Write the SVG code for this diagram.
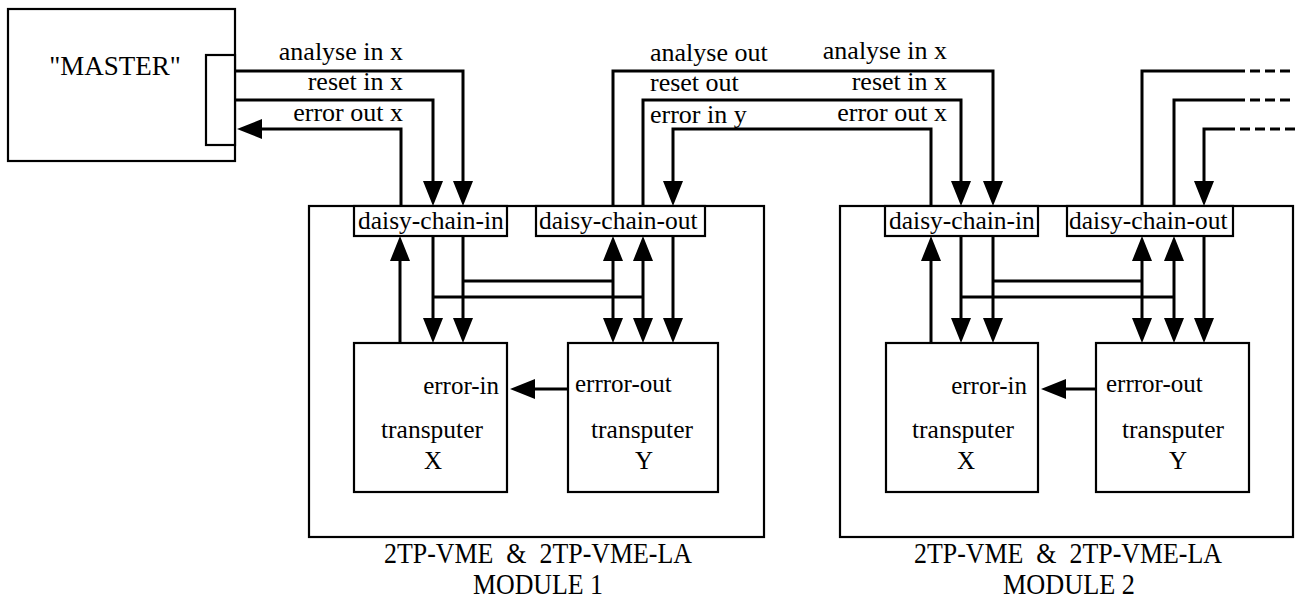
<svg xmlns="http://www.w3.org/2000/svg" width="1295" height="599" viewBox="0 0 1295 599" font-family="'Liberation Serif', 'DejaVu Serif', serif">
<style>
.box{fill:#fff;stroke:#000;stroke-width:2.2}
.ln{fill:none;stroke:#000;stroke-width:3}
.dash{fill:none;stroke:#000;stroke-width:3;stroke-dasharray:10 5}
.ae{marker-end:url(#arr)}
.ab{marker-start:url(#arr);marker-end:url(#arr)}
text{font-family:'Liberation Serif','DejaVu Serif',serif;font-size:25px;fill:#000}
.lab{font-size:26px}
.dc{font-size:25.5px}
.big{font-size:30px}
.r{text-anchor:end}
.m{text-anchor:middle}
</style>
<defs>
<marker id="arr" viewBox="0 0 25 20" refX="0" refY="10" markerWidth="25" markerHeight="20" markerUnits="userSpaceOnUse" orient="auto-start-reverse">
<path d="M0,0 L25,10 L0,20 Z" fill="#000"/>
</marker>
</defs>

<g id="master">
<rect class="box" x="8" y="9" width="227" height="152"/>
<rect class="box" x="206" y="55" width="29" height="90"/>
<text class="m" x="115" y="75" style="font-size:27px">"MASTER"</text>
</g>

<g id="module1">
<rect class="box" x="309" y="206" width="455" height="331"/>
<text class="big m" x="538" y="563" xml:space="preserve" textLength="308" lengthAdjust="spacingAndGlyphs">2TP-VME  &amp;  2TP-VME-LA</text>
<text class="big m" x="538" y="594" textLength="130" lengthAdjust="spacingAndGlyphs">MODULE 1</text>
</g>
<g id="dci1">
<rect class="box" x="354" y="206" width="153" height="30"/>
<text class="dc" x="358" y="229">daisy-chain-in</text>
</g>
<g id="dco1">
<rect class="box" x="536" y="206" width="169" height="30"/>
<text class="dc" x="539" y="229">daisy-chain-out</text>
</g>
<g id="tpx1">
<rect class="box" x="354" y="343" width="153" height="149"/>
<text class="r" x="499" y="394">error-in</text>
<text class="dc" x="381" y="438">transputer</text>
<text class="m" x="433" y="469">X</text>
</g>
<g id="tpy1">
<rect class="box" x="568" y="343" width="150" height="149"/>
<text x="575" y="392">errror-out</text>
<text class="dc" x="591" y="438">transputer</text>
<text class="m" x="644" y="469">Y</text>
</g>

<g id="module2">
<rect class="box" x="840" y="206" width="453" height="331"/>
<text class="big m" x="1068" y="563" xml:space="preserve" textLength="308" lengthAdjust="spacingAndGlyphs">2TP-VME  &amp;  2TP-VME-LA</text>
<text class="big m" x="1069" y="594" textLength="132" lengthAdjust="spacingAndGlyphs">MODULE 2</text>
</g>
<g id="dci2">
<rect class="box" x="885" y="206" width="153" height="30"/>
<text class="dc" x="889" y="229">daisy-chain-in</text>
</g>
<g id="dco2">
<rect class="box" x="1067" y="206" width="166" height="30"/>
<text class="dc" x="1069" y="229">daisy-chain-out</text>
</g>
<g id="tpx2">
<rect class="box" x="886" y="343" width="152" height="149"/>
<text class="r" x="1027" y="394">error-in</text>
<text class="dc" x="912" y="438">transputer</text>
<text class="m" x="966" y="469">X</text>
</g>
<g id="tpy2">
<rect class="box" x="1096" y="343" width="153" height="149"/>
<text x="1106" y="392">errror-out</text>
<text class="dc" x="1122" y="438">transputer</text>
<text class="m" x="1178" y="469">Y</text>
</g>

<g id="connectors">
<path class="ln ae" d="M235,71 H463 V181"/>
<path class="ln ae" d="M235,100 H433 V181"/>
<path class="ln ae" d="M401,206 V129 H262"/>
<path class="ln ae" d="M613,206 V71 H993 V181"/>
<path class="ln ae" d="M643,206 V100 H961 V181"/>
<path class="ln ae" d="M931,206 V129 H673 V181"/>
<path class="ln" d="M1142,206 V71 H1235"/>
<path class="dash" d="M1235,71 H1295"/>
<path class="ln" d="M1174,206 V100 H1235"/>
<path class="dash" d="M1235,100 H1295"/>
<path class="dash" d="M1295,129 H1235"/>
<path class="ln ae" d="M1235,129 H1204 V181"/>
<path class="ln ae" d="M400,343 V261"/>
<path class="ln ae" d="M433,236 V318"/>
<path class="ln ae" d="M463,236 V318"/>
<path class="ln" d="M463,281 H614"/>
<path class="ln" d="M433,297 H643"/>
<path class="ln ab" d="M613,261 V318"/>
<path class="ln ab" d="M643,261 V318"/>
<path class="ln ae" d="M673,236 V318"/>
<path class="ln ae" d="M568,389 H535"/>
<path class="ln ae" d="M931,343 V261"/>
<path class="ln ae" d="M961,236 V318"/>
<path class="ln ae" d="M993,236 V318"/>
<path class="ln" d="M993,281 H1143"/>
<path class="ln" d="M961,297 H1174"/>
<path class="ln ab" d="M1142,261 V318"/>
<path class="ln ab" d="M1174,261 V318"/>
<path class="ln ae" d="M1204,236 V318"/>
<path class="ln ae" d="M1096,389 H1066"/>
</g>

<g id="labels">
<text class="lab r" x="403" y="60">analyse in x</text>
<text class="lab r" x="403" y="90">reset in x</text>
<text class="lab r" x="403" y="121">error out x</text>
<text class="lab" x="650" y="61">analyse out</text>
<text class="lab" x="650" y="91">reset out</text>
<text class="lab" x="650" y="123">error in y</text>
<text class="lab r" x="947" y="59">analyse in x</text>
<text class="lab r" x="947" y="90">reset in x</text>
<text class="lab r" x="947" y="121">error out x</text>
</g>
</svg>
